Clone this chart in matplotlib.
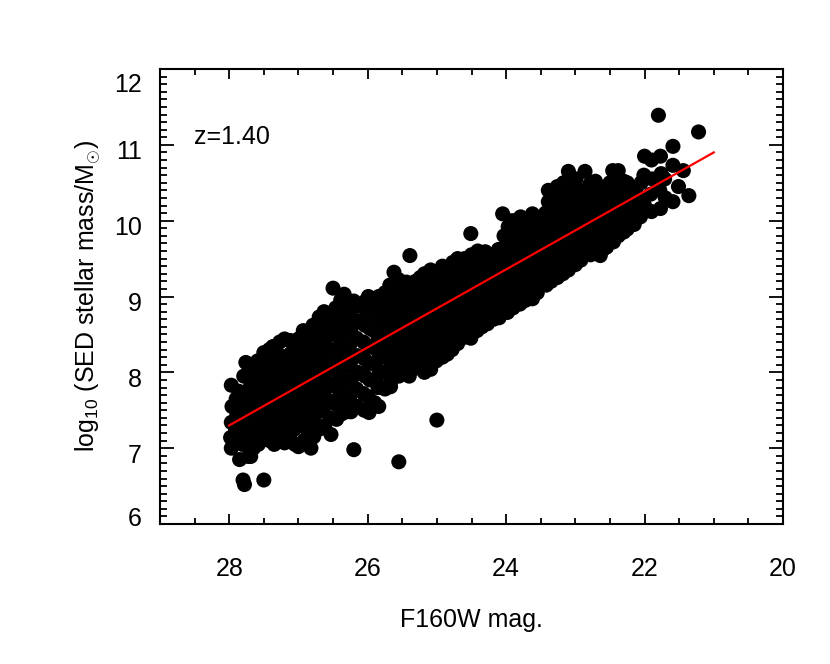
import matplotlib
matplotlib.use("Agg")
import matplotlib.pyplot as plt
from matplotlib.ticker import MultipleLocator, FixedLocator
from matplotlib.transforms import ScaledTranslation

plt.rcParams['font.family'] = ['Liberation Sans', 'DejaVu Sans']
plt.rcParams['mathtext.fontset'] = 'custom'
plt.rcParams['mathtext.rm'] = 'Liberation Sans'
plt.rcParams['mathtext.it'] = 'Liberation Sans'

# ---- data (F160W magnitude, log10 stellar mass) ----
mag = [
    27.97, 27.98, 27.97, 27.96, 27.97,
    27.90, 27.91, 27.89, 27.90,
    27.85, 27.86, 27.84, 27.85, 27.86,
    27.80, 27.81, 27.79, 27.80, 27.81, 27.79,
    27.78, 27.76,
    27.72, 27.71, 27.73, 27.72, 27.70, 27.72,
    27.65, 27.66, 27.64, 27.65, 27.66, 27.64,
    27.58, 27.57, 27.59, 27.58, 27.57, 27.59,
    27.50, 27.69, 27.50, 27.51, 27.49, 27.50, 27.51, 27.50,
    27.42, 27.43, 27.41, 27.42, 27.43, 27.41, 27.42,
    27.35, 27.36, 27.34, 27.35, 27.36, 27.34, 27.37,
    27.27, 27.28, 27.26, 27.27, 27.28, 27.26, 27.27,
    27.20, 27.21, 27.19, 27.20, 27.21, 27.19, 27.20,
    27.12, 27.13, 27.11, 27.12, 27.13, 27.11, 27.12,
    27.05, 27.06, 27.04, 27.05, 27.06, 27.04, 27.05,
    27.00, 27.01, 26.99, 27.00, 27.01, 26.99, 27.00,
    26.92, 26.93, 26.91, 26.92, 26.93, 26.91, 26.92, 26.93,
    26.82, 26.86, 26.84, 26.85, 26.86, 26.84, 26.85, 26.86,
    26.78, 26.79, 26.77, 26.78, 26.79, 26.77, 26.78, 26.79,
    26.70, 26.71, 26.69, 26.70, 26.71, 26.69, 26.70, 26.70,
    26.62, 26.63, 26.61, 26.62, 26.63, 26.61, 26.62, 26.63,
    26.53, 26.54, 26.52, 26.53, 26.54, 26.52, 26.53, 26.54, 26.50,
    26.45, 26.46, 26.44, 26.45, 26.46, 26.44, 26.45, 26.46,
    26.38, 26.39, 26.37, 26.38, 26.39, 26.37, 26.38, 26.39,
    26.34,
    26.30, 26.31, 26.29, 26.30, 26.31, 26.29, 26.30, 26.31,
    26.24, 26.25, 26.23, 26.24, 26.25, 26.23, 26.24,
    26.20, 26.20,
    26.15, 26.16, 26.14, 26.15, 26.16, 26.14, 26.15,
    26.05, 26.06, 26.04, 26.05, 26.06, 26.04, 26.05, 26.03,
    25.98, 25.99, 25.97, 25.98, 25.99, 25.97, 25.98, 25.99,
    25.90, 25.88, 25.89, 25.90, 25.91, 25.89, 25.90,
    25.84, 25.85, 25.83, 25.84, 25.85, 25.83, 25.84, 25.84,
    25.75, 25.76, 25.74, 25.75, 25.76, 25.74, 25.75,
    25.67, 25.67, 25.66, 25.67, 25.68, 25.66, 25.67, 25.68,
    25.62, 25.63, 25.61, 25.62, 25.63, 25.61, 25.62,
    25.58, 25.59, 25.57, 25.58, 25.59,
    25.55, 25.55, 25.56, 25.54, 25.55, 25.56, 25.54, 25.55,
    25.51, 25.52, 25.50, 25.51, 25.52,
    25.47, 25.48, 25.46, 25.47, 25.48, 25.44,
    25.44, 25.45, 25.43, 25.44, 25.45,
    25.40, 25.41, 25.39, 25.40, 25.41, 25.39, 25.39,
    25.36, 25.37, 25.35, 25.36, 25.37,
    25.32, 25.33, 25.31, 25.32, 25.33, 25.31,
    25.29, 25.30, 25.28, 25.29, 25.30,
    25.25, 25.26, 25.24, 25.25, 25.26, 25.24,
    25.21, 25.22, 25.20, 25.21, 25.22,
    25.18, 25.19, 25.17, 25.18, 25.19, 25.17, 25.18,
    25.14, 25.15, 25.13, 25.14, 25.15,
    25.13,
    25.09, 25.10, 25.08, 25.09, 25.10, 25.08, 25.09,
    25.04, 25.05, 25.03, 25.04, 25.05,
    25.00, 25.01, 24.99, 25.00, 25.01, 24.99, 25.00,
    24.96, 24.97, 24.95, 24.96, 24.97,
    24.92, 24.93, 24.91, 24.92, 24.93, 24.91, 24.92,
    24.88, 24.89, 24.87, 24.88, 24.89,
    24.85, 24.86, 24.84, 24.85, 24.86, 24.87,
    24.78, 24.79, 24.77, 24.78, 24.79, 24.77,
    24.74, 24.75, 24.73, 24.74, 24.75,
    24.70, 24.71, 24.69, 24.70, 24.71, 24.70,
    24.65, 24.66, 24.64, 24.65, 24.66,
    24.61, 24.62, 24.60, 24.61, 24.62, 24.60,
    24.56, 24.57, 24.55, 24.56, 24.57,
    24.51, 24.52, 24.50, 24.51, 24.52, 24.50, 24.51,
    24.46, 24.47, 24.45, 24.46, 24.47,
    24.42, 24.43, 24.41, 24.42, 24.43, 24.41,
    24.38, 24.39, 24.37, 24.38,
    24.35, 24.36, 24.34, 24.35, 24.36,
    24.31, 24.32, 24.30, 24.31,
    24.27, 24.28, 24.26, 24.27, 24.30,
    24.22, 24.23, 24.21, 24.22,
    24.18, 24.19, 24.17, 24.18, 24.19,
    24.14, 24.15, 24.13, 24.14,
    24.10, 24.11, 24.09, 24.10, 24.11,
    24.05,
    24.02, 24.03, 24.01, 24.02, 24.03,
    23.98, 23.99, 23.97, 23.98, 23.99, 23.97,
    23.94, 23.95, 23.93, 23.94, 23.95,
    23.90, 23.91, 23.89, 23.90, 23.90, 23.91,
    23.85, 23.86, 23.84, 23.85, 23.86,
    23.80, 23.81, 23.79, 23.80, 23.81, 23.79,
    23.76, 23.77, 23.75, 23.76, 23.77,
    23.72, 23.73, 23.71, 23.72, 23.73,
    23.69,
    23.66, 23.67, 23.65, 23.66,
    23.62, 23.63, 23.61, 23.62, 23.63, 23.62,
    23.58, 23.59, 23.57, 23.58,
    23.55, 23.56, 23.54, 23.55, 23.56,
    23.50, 23.51, 23.49, 23.50,
    23.46, 23.47, 23.45,
    23.42, 23.43, 23.41, 23.42, 23.43, 23.39,
    23.38, 23.39, 23.37, 23.38, 23.39,
    23.35, 23.36, 23.34, 23.35, 23.36, 23.34,
    23.30, 23.31, 23.29, 23.30, 23.31,
    23.26, 23.27, 23.25, 23.26, 23.27, 23.26,
    23.22, 23.23, 23.21, 23.22, 23.23,
    23.18, 23.19, 23.17, 23.18, 23.19, 23.17,
    23.14, 23.15, 23.13, 23.14, 23.15,
    23.10, 23.11, 23.09, 23.10, 23.11, 23.10,
    23.05, 23.06, 23.04, 23.05, 23.06,
    23.00, 23.01, 22.99, 23.00, 23.01, 22.99,
    22.96, 22.97, 22.95, 22.96,
    22.92, 22.93, 22.91, 22.92, 22.93,
    22.86, 22.87, 22.85, 22.86, 22.86,
    22.82, 22.83, 22.81, 22.82,
    22.78, 22.79, 22.77, 22.78, 22.79,
    22.74, 22.75, 22.73, 22.74,
    22.70, 22.71, 22.69, 22.70, 22.71,
    22.64, 22.65, 22.63, 22.64, 22.65,
    22.60, 22.61, 22.59, 22.60,
    22.55, 22.56, 22.54, 22.55,
    22.50, 22.51, 22.49, 22.50,
    22.45, 22.46, 22.44, 22.45, 22.46,
    22.38, 22.39, 22.37, 22.38, 22.38,
    22.34, 22.35, 22.33,
    22.30, 22.31, 22.29, 22.30,
    22.25, 22.26, 22.25,
    22.20, 22.21,
    22.15, 22.16, 22.14,
    22.10, 22.11,
    22.06, 22.07, 22.05,
    22.00, 22.01, 22.00,
    21.90, 21.91, 21.89, 21.90,
    21.80, 21.77,
    21.77, 21.78, 21.76,
    21.70, 21.71,
    21.59, 21.59, 21.59,
    21.51, 21.44, 21.36, 21.22,
]
logmass = [
    7.00, 7.14, 7.34, 7.55, 7.83,
    7.08, 7.25, 7.45, 7.65,
    6.85, 7.20, 7.40, 7.58, 7.75,
    6.58, 7.05, 7.30, 7.50, 7.70, 7.95,
    6.52, 8.13,
    6.89, 7.12, 7.35, 7.55, 7.80, 8.00,
    7.00, 7.22, 7.45, 7.65, 7.90, 8.10,
    7.05, 7.30, 7.50, 7.72, 7.95, 8.15,
    6.58, 6.89, 7.18, 7.40, 7.62, 7.85, 8.05, 8.26,
    7.10, 7.30, 7.52, 7.75, 7.95, 8.15, 8.30,
    7.05, 7.25, 7.45, 7.68, 7.90, 8.10, 8.34,
    7.15, 7.35, 7.58, 7.80, 8.00, 8.22, 8.40,
    7.07, 7.28, 7.50, 7.72, 7.95, 8.15, 8.44,
    7.12, 7.35, 7.58, 7.80, 8.05, 8.25, 8.42,
    7.05, 7.25, 7.48, 7.70, 7.92, 8.15, 8.35,
    7.02, 7.40, 7.62, 7.85, 8.05, 8.28, 8.44,
    7.10, 7.30, 7.55, 7.78, 8.00, 8.20, 8.40, 8.55,
    7.00, 7.22, 7.45, 7.68, 7.90, 8.12, 8.35, 8.50,
    7.15, 7.38, 7.60, 7.85, 8.05, 8.28, 8.48, 8.62,
    7.25, 7.48, 7.70, 7.92, 8.15, 8.38, 8.58, 8.73,
    7.30, 7.55, 7.78, 8.00, 8.22, 8.45, 8.65, 8.80,
    7.18, 7.40, 7.62, 7.85, 8.08, 8.30, 8.52, 8.72, 9.11,
    7.38, 7.58, 7.80, 8.02, 8.25, 8.48, 8.68, 8.85,
    7.45, 7.68, 7.90, 8.12, 8.35, 8.58, 8.78, 8.95,
    9.03,
    7.48, 7.62, 7.85, 8.08, 8.30, 8.52, 8.72, 8.90,
    7.48, 7.70, 7.92, 8.15, 8.38, 8.60, 8.82,
    6.98, 8.94,
    7.55, 7.78, 8.00, 8.22, 8.45, 8.68, 8.88,
    7.50, 7.72, 7.95, 8.18, 8.40, 8.62, 8.85, 8.94,
    7.47, 7.68, 7.90, 8.12, 8.35, 8.58, 8.80, 9.00,
    7.60, 7.91, 8.10, 8.32, 8.55, 8.75, 8.95,
    7.55, 7.80, 8.02, 8.25, 8.48, 8.70, 8.90, 9.00,
    7.78, 8.00, 8.20, 8.42, 8.65, 8.85, 9.05,
    7.81, 7.87, 8.08, 8.30, 8.52, 8.75, 8.95, 9.15,
    8.00, 8.22, 8.45, 8.68, 8.90, 9.10, 9.32,
    8.10, 8.32, 8.55, 8.78, 9.00,
    6.82, 7.95, 8.15, 8.38, 8.60, 8.82, 9.05, 9.22,
    8.15, 8.40, 8.62, 8.85, 9.08,
    8.05, 8.28, 8.50, 8.72, 8.95, 9.19,
    8.10, 8.35, 8.58, 8.80, 9.00,
    7.95, 8.18, 8.40, 8.62, 8.85, 9.05, 9.54,
    8.18, 8.40, 8.62, 8.85, 9.10,
    8.05, 8.30, 8.52, 8.75, 8.98, 9.20,
    8.20, 8.45, 8.68, 8.90, 9.12,
    8.10, 8.35, 8.58, 8.80, 9.02, 9.25,
    8.12, 8.35, 8.58, 8.80, 9.02,
    8.00, 8.22, 8.45, 8.68, 8.90, 9.12, 9.30,
    8.15, 8.40, 8.62, 8.85, 9.05,
    8.04,
    8.04, 8.28, 8.50, 8.72, 8.95, 9.18, 9.35,
    8.28, 8.50, 8.72, 8.95, 9.18,
    7.37, 8.15, 8.38, 8.60, 8.82, 9.05, 9.28,
    8.27, 8.50, 8.72, 8.95, 9.18,
    8.20, 8.42, 8.65, 8.88, 9.10, 9.30, 9.40,
    8.33, 8.56, 8.78, 9.00, 9.22,
    8.24, 8.48, 8.70, 8.92, 9.15, 9.27,
    8.30, 8.52, 8.75, 8.98, 9.20, 9.45,
    8.42, 8.64, 8.88, 9.10, 9.35,
    8.38, 8.60, 8.82, 9.05, 9.25, 9.50,
    8.50, 8.75, 8.98, 9.20, 9.42,
    8.46, 8.68, 8.90, 9.12, 9.35, 9.50,
    8.55, 8.80, 9.03, 9.25, 9.45,
    8.45, 8.68, 8.92, 9.15, 9.38, 9.55, 9.83,
    8.62, 8.85, 9.08, 9.32, 9.52,
    8.55, 8.78, 9.00, 9.22, 9.45, 9.60,
    8.68, 8.92, 9.15, 9.38,
    8.60, 8.82, 9.05, 9.28, 9.50,
    8.75, 8.98, 9.20, 9.42,
    8.64, 8.88, 9.10, 9.32, 9.59,
    8.80, 9.02, 9.25, 9.48,
    8.70, 8.92, 9.15, 9.38, 9.55,
    8.85, 9.05, 9.28, 9.50,
    8.72, 8.95, 9.18, 9.40, 9.62,
    10.09,
    8.90, 9.12, 9.35, 9.58, 9.80,
    8.79, 9.02, 9.25, 9.48, 9.70, 9.92,
    8.95, 9.20, 9.42, 9.65, 9.88,
    8.85, 9.10, 9.32, 9.55, 9.76, 10.00,
    9.02, 9.25, 9.48, 9.70, 9.92,
    8.90, 9.15, 9.38, 9.60, 9.82, 10.05,
    9.08, 9.30, 9.52, 9.75, 9.98,
    8.95, 9.20, 9.42, 9.65, 9.90,
    8.99,
    9.10, 9.33, 9.55, 9.80,
    8.97, 9.22, 9.45, 9.68, 9.92, 10.09,
    9.15, 9.38, 9.60, 9.90,
    9.05, 9.28, 9.50, 9.83, 10.02,
    9.23, 9.45, 9.70, 9.95,
    9.28, 9.50, 9.75,
    9.15, 9.38, 9.60, 9.85, 10.10, 10.40,
    9.30, 9.52, 9.75, 10.00, 10.25,
    9.20, 9.42, 9.65, 9.90, 10.15, 10.35,
    9.35, 9.58, 9.82, 10.05, 10.30,
    9.25, 9.48, 9.72, 9.95, 10.20, 10.45,
    9.40, 9.65, 9.88, 10.10, 10.35,
    9.30, 9.55, 9.78, 10.00, 10.25, 10.50,
    9.48, 9.70, 9.92, 10.15, 10.40,
    9.35, 9.60, 9.82, 10.05, 10.30, 10.65,
    9.52, 9.75, 9.98, 10.22, 10.45,
    9.42, 9.65, 9.88, 10.10, 10.35, 10.55,
    9.58, 9.82, 10.05, 10.28,
    9.48, 9.72, 9.95, 10.18, 10.40,
    9.63, 9.85, 10.10, 10.35, 10.65,
    9.65, 9.90, 10.12, 10.38,
    9.55, 9.78, 10.00, 10.25, 10.48,
    9.70, 9.92, 10.15, 10.40,
    9.60, 9.82, 10.05, 10.30, 10.52,
    9.54, 9.75, 10.00, 10.22, 10.45,
    9.62, 9.85, 10.10, 10.32,
    9.65, 9.90, 10.12, 10.35,
    9.78, 10.02, 10.25, 10.50,
    9.72, 9.95, 10.18, 10.40, 10.66,
    9.80, 10.02, 10.25, 10.50, 10.66,
    9.92, 10.15, 10.40,
    9.85, 10.08, 10.30, 10.52,
    9.89, 10.15, 10.50,
    10.00, 10.30,
    9.95, 10.20, 10.40,
    10.12, 10.35,
    10.05, 10.28, 10.50,
    10.20, 10.60, 10.85,
    10.12, 10.35, 10.55, 10.80,
    11.39, 10.85,
    10.16, 10.40, 10.62,
    10.30, 10.55,
    10.25, 10.73, 10.98,
    10.45, 10.66, 10.33, 11.17,
]

# linear relation shown in red
line_mag = [28.0, 21.0]
line_logmass = [7.30, 10.90]

redshift_label = "z=1.40"

# ---- figure ----
fig = plt.figure(figsize=(8.30, 6.64), dpi=100)
ax = fig.add_axes([160/830, 1 - 524/664, 623/830, 455/664])

ax.scatter(mag, logmass, s=118, c='black', edgecolors='none', zorder=2)
ax.plot(line_mag, line_logmass, color='red', lw=1.6, zorder=3)

ax.set_xlim(29, 20)
ax.set_ylim(6, 12)

ax.xaxis.set_major_locator(FixedLocator([28, 26, 24, 22, 20]))
ax.xaxis.set_minor_locator(MultipleLocator(0.5))
ax.yaxis.set_major_locator(FixedLocator([6, 7, 8, 9, 10, 11, 12]))
ax.yaxis.set_minor_locator(MultipleLocator(0.1))

ax.tick_params(axis='both', which='both', direction='in', top=True, right=True,
               width=1.3, labelsize=18, colors='black')
ax.tick_params(axis='x', which='major', length=7, pad=24)
ax.tick_params(axis='x', which='minor', length=4)
ax.tick_params(axis='y', which='major', length=10, pad=13)
ax.tick_params(axis='y', which='minor', length=5)
for sp in ax.spines.values():
    sp.set_linewidth(1.5)

ax.set_xlabel("F160W mag.", fontsize=18)
ax.set_ylabel(r"log$_{10}$ (SED stellar mass/M$_{\odot}$)", fontsize=18)
ax.xaxis.set_label_coords(0.5, -0.185)
ax.yaxis.set_label_coords(-0.092, 0.5)

ax.text(0.055, 0.85, redshift_label, transform=ax.transAxes, fontsize=18,
        ha='left', va='center')

# IDL-like placement of y tick labels
fig.canvas.draw()
for val, tk in zip([6, 7, 8, 9, 10, 11, 12], ax.yaxis.get_major_ticks()):
    dy = -5
    if val == 12:
        dy = -14
    elif val == 6:
        dy = 7
    tk.label1.set_transform(tk.label1.get_transform() +
                            ScaledTranslation(0, dy / 100, fig.dpi_scale_trans))

fig.savefig("out.png", dpi=100)
